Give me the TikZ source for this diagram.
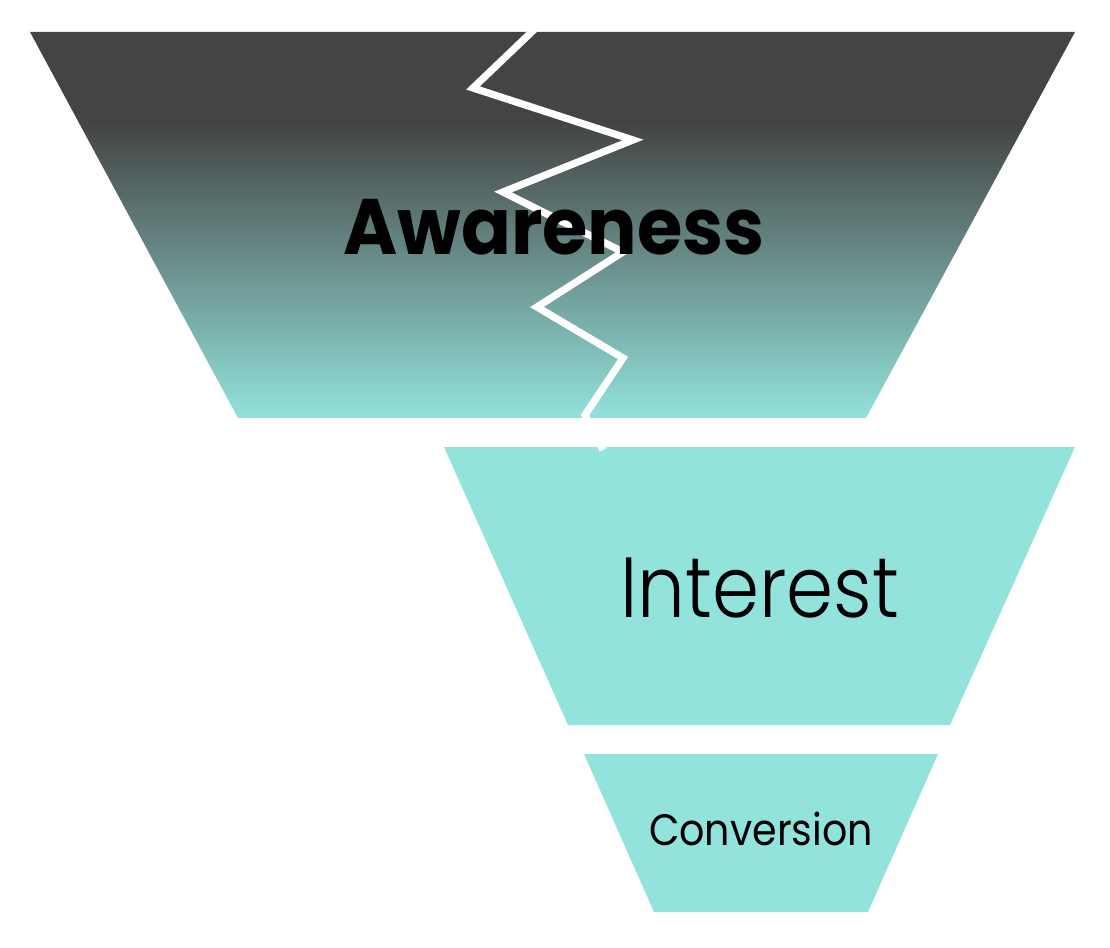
\documentclass[tikz,border=0pt]{standalone}
\usepackage{fontspec}
\setmainfont{Poppins}
\newfontfamily\lightfont{Poppins Light}
\definecolor{funnelteal}{HTML}{92E3DC}
\definecolor{funneldark}{HTML}{444444}
\begin{document}
\begin{tikzpicture}[x=0.75pt,y=-0.75pt,
  stagefill/.style={fill=funnelteal},
  crack/.style={draw=white,line width=5.4pt,line join=miter,line cap=butt},
  lbl/.style={text=black,inner sep=0pt,anchor=base,transform shape}]
\useasboundingbox (0,0) rectangle (1110,948);
% Awareness stage with gradient
\begin{scope}
  \clip (30,32) -- (1075,32) -- (866,418) -- (238,418) -- cycle;
  \fill[funneldark] (0,30) rectangle (1110,124);
  \shade[top color=funneldark,bottom color=funnelteal] (0,123) rectangle (1110,419);
\end{scope}
% Interest stage
\path[stagefill] (444,447) -- (1075,447) -- (950,725) -- (568,725) -- cycle;
% Conversion stage
\path[stagefill] (584,754) -- (938,754) -- (868,912) -- (654,912) -- cycle;
% crack
\draw[crack] (540,24) -- (473,88) -- (633,140) -- (503,192) -- (623,252) -- (537,307) -- (623,358) -- (585,415) -- (603,450);
% labels
\begin{scope}[shift={(554,255)},xscale=0.935]
\node[lbl,font=\bfseries\fontsize{59}{70}\selectfont] (aw) at (0,0) {Awareness};
\end{scope}
\begin{scope}[shift={(760,617)},xscale=0.885]
\node[lbl,font=\lightfont\fontsize{64}{70}\selectfont] (in) at (0,0) {Interest};
\end{scope}
\begin{scope}[shift={(761,845)},xscale=0.9]
\node[lbl,font=\fontsize{33}{40}\selectfont] (co) at (0,0) {Conversion};
\end{scope}
\end{tikzpicture}
\end{document}
